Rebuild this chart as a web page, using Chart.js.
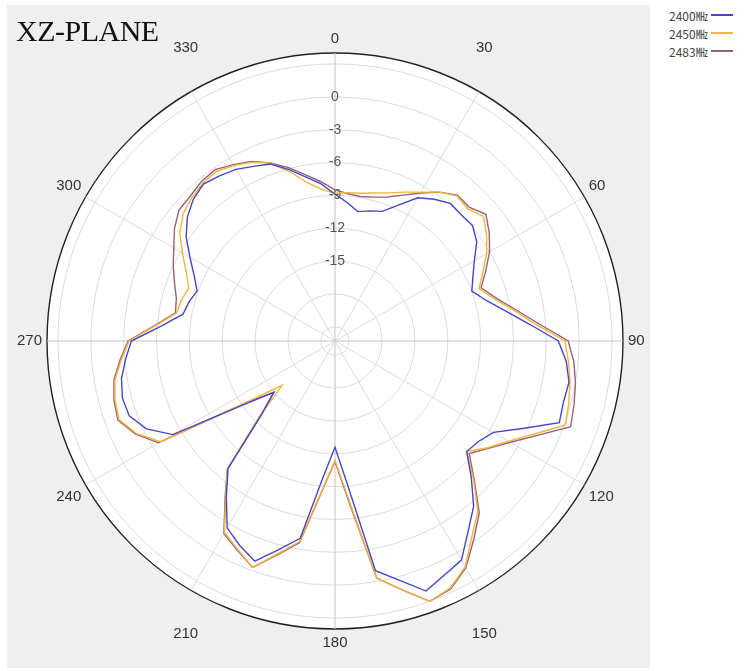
<!DOCTYPE html>
<html lang="en">
<head>
    <meta charset="UTF-8" />
    <title>XZ-PLANE</title>
    <script src="https://cdn.jsdelivr.net/npm/chart.js"></script>
    <style>
        body { margin: 0; background: #fff; width: 755px; height: 671px; overflow: hidden; position: relative; }
        #panel { position: absolute; left: 7px; top: 5px; width: 643px; height: 663px; background: #efefef; }
        #title { position: absolute; left: 16px; top: 14px; font: 30px 'Liberation Serif', 'DejaVu Serif', serif; color: #111; letter-spacing: -0.5px; }
        #box { position: absolute; left: 13px; top: 23px; width: 636px; height: 636px; }
        #legend { position: absolute; left: 669px; top: 6px; font: 12px 'Noto Sans CJK JP', 'Liberation Sans', sans-serif; color: #444; }
        #legend div { display: flex; align-items: center; height: 18px; }
        #legend span.ln { display: inline-block; width: 22px; height: 0; border-top: 2px solid; margin-left: 3px; }
    </style>
</head>
<body>
    <div id="panel"></div>
    <div id="box"><canvas id="polar"></canvas></div>
    <div id="title">XZ-PLANE</div>
    <div id="legend"></div>

    <script>
        // angles (deg), one sample every 5 degrees
        const angles = [0, 5, 10, 15, 20, 25, 30, 35, 40, 45, 50, 55, 60, 65, 70, 75, 80, 85,
            90, 95, 100, 105, 110, 115, 120, 125, 130, 135, 140, 145, 150, 155, 160, 165, 170, 175,
            180, 185, 190, 195, 200, 205, 210, 215, 220, 225, 230, 235, 240, 245, 250, 255, 260, 265,
            270, 275, 280, 285, 290, 295, 300, 305, 310, 315, 320, 325, 330, 335, 340, 345, 350, 355];

        const seriesNames = ['2400㎒', '2450㎒', '2483㎒'];
        const seriesColors = ['#4646c8', '#f2b63c', '#9c5f7c'];

        // gain in dB
        const gain2400 = [-8.9, -9.6, -10.3, -10.0, -9.7, -8.6, -7.2, -6.5, -5.9, -6.0, -5.9, -6.5, -7.6, -8.4, -9.0, -8.0, -6.5, -4.5,
            -1.9, -1.1, -0.6, -0.7, -0.5, -3.4, -5.6, -6.3, -6.6, -4.7, -2.6, -1.1, 0.8, 1.3, 2.0, 0.3, -1.0, -9.1,
            -12.6, -9.8, -4.0, -2.6, -0.9, -1.7, -2.6, -5.0, -7.1, -12.8, -15.0, -12.2, -5.2, -3.3, -2.3, -2.2, -2.5, -3.1,
            -3.7, -6.4, -8.2, -8.5, -8.9, -8.1, -7.0, -5.7, -4.7, -4.0, -3.6, -3.9, -4.2, -4.7, -5.1, -6.1, -7.1, -7.9];
        const gain2450 = [-8.8, -8.7, -8.6, -8.3, -7.9, -7.3, -6.6, -5.7, -5.0, -5.2, -4.6, -5.4, -6.3, -7.4, -8.3, -7.3, -5.8, -4.0,
            -1.3, -0.9, -0.5, -0.2, 0.1, -2.2, -4.0, -5.3, -6.6, -4.4, -2.0, -0.5, 1.5, 2.6, 3.0, 1.2, -0.3, -7.7,
            -11.4, -8.6, -3.7, -2.2, -0.3, -1.3, -2.1, -4.9, -7.0, -12.5, -16.0, -12.8, -3.9, -2.3, -1.3, -1.5, -1.9, -2.7,
            -3.5, -5.9, -7.6, -7.8, -8.1, -7.3, -6.2, -5.0, -4.2, -3.8, -3.5, -3.4, -3.8, -4.3, -5.0, -6.3, -7.6, -8.4];
        const gain2483 = [-8.5, -8.8, -8.9, -8.7, -8.3, -7.6, -6.7, -5.7, -4.9, -5.0, -4.3, -5.1, -6.0, -7.1, -8.1, -7.1, -5.6, -3.7,
            -1.0, -0.4, 0.0, 0.3, 0.6, -1.9, -3.8, -5.2, -6.3, -4.3, -1.8, -0.2, 1.6, 2.7, 3.0, 1.2, -0.3, -7.5,
            -11.3, -8.5, -3.6, -2.1, -0.3, -1.2, -2.0, -4.8, -7.0, -12.8, -15.0, -12.6, -3.7, -2.2, -1.2, -1.4, -1.8, -2.6,
            -3.4, -5.8, -7.5, -7.3, -6.7, -6.0, -5.3, -4.4, -3.7, -3.6, -3.3, -3.2, -3.7, -4.2, -5.0, -5.9, -6.9, -7.7];

        // ring values and labelled ones
        const ringValues = [-21, -18, -15, -12, -9, -6, -3, 0, 3, 4];
        const ringLabels = [-15, -12, -9, -6, -3, 0];
        const angleLabels = [0, 60, 90, 120, 180, 240, 270, 300];
        // these four sit further out, nudged toward the vertical axis
        const outerLabels = [30, 150, 210, 330];

        const allSeries = [gain2400, gain2450, gain2483];
        const labelFont = "15px 'Liberation Sans Narrow', 'Liberation Sans', sans-serif";

        const outerLabelPlugin = {
            id: 'outerLabels',
            afterDraw(chart) {
                const s = chart.scales.r, ctx = chart.ctx;
                const r = s.drawingArea + 41;
                ctx.save();
                ctx.font = labelFont;
                ctx.fillStyle = '#333';
                ctx.textAlign = 'center';
                ctx.textBaseline = 'middle';
                outerLabels.forEach(deg => {
                    const a = (deg + (deg % 180 < 90 ? -3 : 3)) * Math.PI / 180;
                    ctx.fillText(String(deg), s.xCenter + r * Math.sin(a), s.yCenter - r * Math.cos(a));
                });
                ctx.restore();
            }
        };

        new Chart(document.getElementById('polar'), {
            type: 'radar',
            data: {
                labels: angles,
                datasets: allSeries.map((d, i) => ({
                    label: seriesNames[i],
                    data: d,
                    borderColor: seriesColors[i],
                    borderWidth: 1.4,
                    pointRadius: 0,
                    fill: false,
                    tension: 0
                }))
            },
            options: {
                responsive: true,
                maintainAspectRatio: false,
                animation: false,
                layout: { padding: 0 },
                plugins: { legend: { display: false }, tooltip: { enabled: false } },
                scales: {
                    r: {
                        min: -22.3,
                        max: 4,
                        backgroundColor: '#ffffff',
                        afterBuildTicks: s => { s.ticks = ringValues.map(v => ({ value: v })); },
                        grid: {
                            circular: true,
                            color: c => c.tick && c.tick.value === 4 ? '#222' : '#dcdcdc',
                            lineWidth: c => c.tick && c.tick.value === 4 ? 1.4 : 1
                        },
                        angleLines: {
                            color: c => c.index % 18 === 0 ? '#c4c4c4' : '#dcdcdc',
                            lineWidth: c => c.index % 6 === 0 ? 1 : 0
                        },
                        ticks: {
                            showLabelBackdrop: false,
                            color: '#555',
                            font: { size: 14, family: "'Liberation Sans Narrow', 'Liberation Sans', sans-serif" },
                            callback: v => ringLabels.includes(v) ? String(v) : ''
                        },
                        pointLabels: {
                            display: true,
                            color: '#333',
                            padding: -4,
                            font: { size: 15, family: "'Liberation Sans Narrow', 'Liberation Sans', sans-serif" },
                            callback: l => angleLabels.includes(l) ? String(l) : ''
                        }
                    }
                }
            },
            plugins: [outerLabelPlugin]
        });

        // legend: name then a short line sample
        const lg = document.getElementById('legend');
        seriesNames.forEach((n, i) => {
            const row = document.createElement('div');
            row.innerHTML = '<span>' + n + '</span><span class="ln" style="border-color:' + seriesColors[i] + '"></span>';
            lg.appendChild(row);
        });
    </script>
</body>
</html>
